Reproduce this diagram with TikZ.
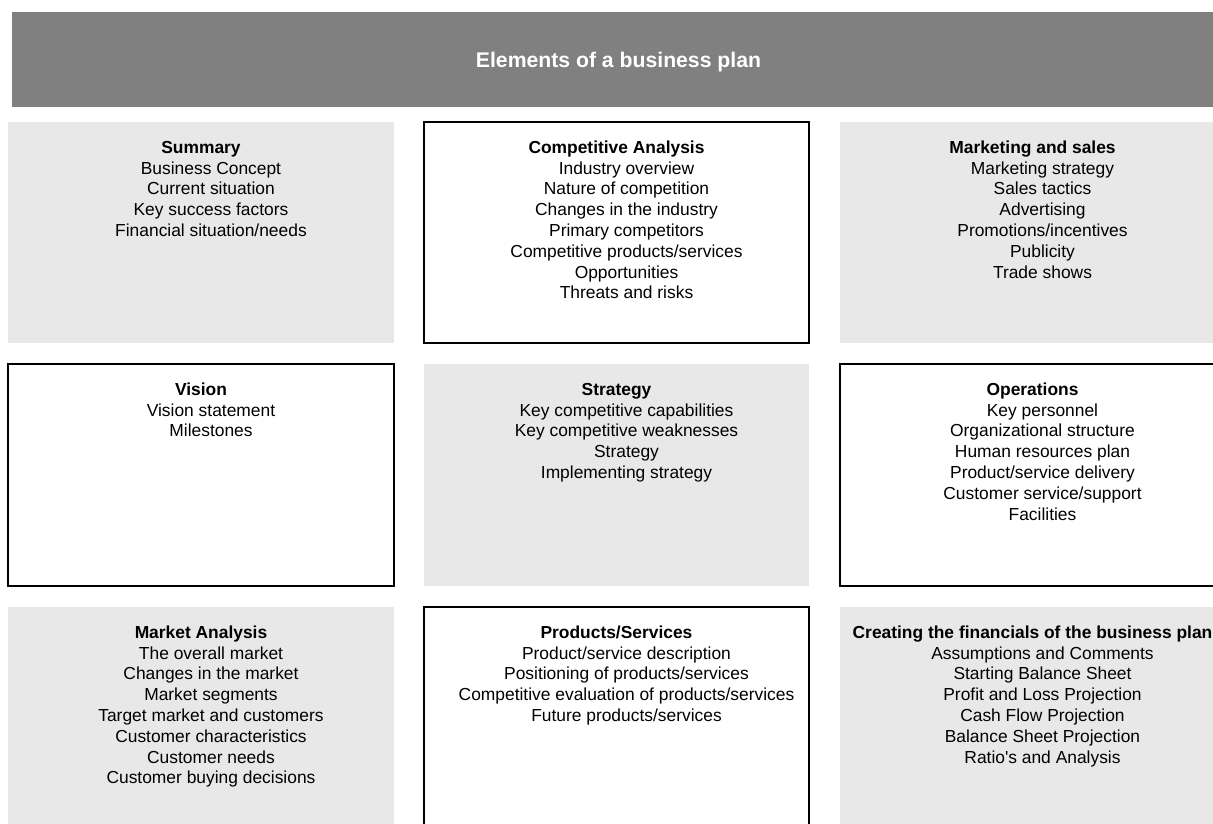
\documentclass[tikz,border=0pt]{standalone}
\usepackage{fontspec}
\setmainfont{Liberation Sans}
\usetikzlibrary{calc}
\definecolor{hdrgray}{RGB}{128,128,128}
\definecolor{panelgray}{RGB}{232,232,232}
\tikzset{
  panelbase/.style={rectangle, inner sep=0pt, outer sep=0pt, anchor=north west},
  shadedpanel/.style={panelbase, fill=panelgray, draw=none},
  framedpanel/.style={panelbase, fill=white, draw=black, line width=1.3pt},
  paneltitle/.style={anchor=base, inner sep=0pt, font=\fontsize{17.4}{20.8}\selectfont\bfseries},
  panelbody/.style={anchor=base, inner sep=0pt, font=\fontsize{17.4}{20.8}\selectfont},
  hdrtext/.style={anchor=base, inner sep=0pt, text=white, font=\fontsize{21.2}{25}\selectfont\bfseries}
}
\newcommand{\bpanel}[6]{%
  \node[#4, minimum width=#5pt, minimum height=#6pt] (#1) at (#2,#3) {};
}
\newcommand{\bptext}[3]{%
  \node[paneltitle] (#1-t) at ([yshift=-31.3pt]#1.north) {#2};
  \node[panelbody] (#1-b) at ([xshift=10pt,yshift=-52.1pt]#1.north) {\begin{tabular}[t]{@{}c@{}}#3\end{tabular}};
}
\begin{document}
\begin{tikzpicture}[x=1pt,y=-1pt]
\useasboundingbox (0,0) rectangle (1213,823);
\clip (0,0) rectangle (1213,823);
% header
\node[panelbase, fill=hdrgray, minimum width=1213pt, minimum height=95pt] (hdr) at (12,12) {};
\node[hdrtext] (hdr-t) at (618.5,67.3) {Elements of a business plan};
% row 1
\bpanel{sum}{8}{122}{shadedpanel}{386}{221}
\bpanel{comp}{424}{122}{framedpanel}{385}{221}
\bpanel{mkt}{840}{122}{shadedpanel}{385}{221}
% row 2
\bpanel{vis}{8}{364}{framedpanel}{386}{222}
\bpanel{strat}{424}{364}{shadedpanel}{385}{222}
\bpanel{ops}{840}{364}{framedpanel}{385}{222}
% row 3
\bpanel{mana}{8}{607}{shadedpanel}{386}{222}
\bpanel{prod}{424}{607}{framedpanel}{385}{222}
\bpanel{fin}{840}{607}{shadedpanel}{385}{222}
% texts
\bptext{sum}{Summary}{Business Concept\\Current situation\\Key success factors\\Financial situation/needs}
\bptext{comp}{Competitive Analysis}{Industry overview\\Nature of competition\\Changes in the industry\\Primary competitors\\Competitive products/services\\Opportunities\\Threats and risks}
\bptext{mkt}{Marketing and sales}{Marketing strategy\\Sales tactics\\Advertising\\Promotions/incentives\\Publicity\\Trade shows}
\bptext{vis}{Vision}{Vision statement\\Milestones}
\bptext{strat}{Strategy}{Key competitive capabilities\\Key competitive weaknesses\\Strategy\\Implementing strategy}
\bptext{ops}{Operations}{Key personnel\\Organizational structure\\Human resources plan\\Product/service delivery\\Customer service/support\\Facilities}
\bptext{mana}{Market Analysis}{The overall market\\Changes in the market\\Market segments\\Target market and customers\\Customer characteristics\\Customer needs\\Customer buying decisions}
\bptext{prod}{Products/Services}{Product/service description\\Positioning of products/services\\Competitive evaluation of products/services\\Future products/services}
\bptext{fin}{Creating the financials of the business plan}{Assumptions and Comments\\Starting Balance Sheet\\Profit and Loss Projection\\Cash Flow Projection\\Balance Sheet Projection\\Ratio\textquotesingle s and Analysis}
\end{tikzpicture}
\end{document}
